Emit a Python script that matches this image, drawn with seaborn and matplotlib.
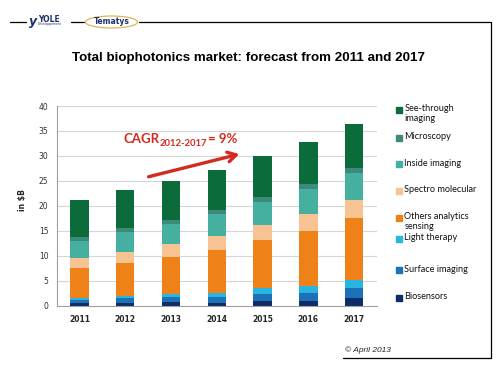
import matplotlib
matplotlib.use("Agg")
import matplotlib.pyplot as plt
import seaborn as sns
import pandas as pd
from matplotlib.lines import Line2D
from matplotlib.patches import Rectangle, Ellipse

# Données (en milliards de $)
years = [2011, 2012, 2013, 2014, 2015, 2016, 2017]
see_through = [7.4, 7.55, 7.82, 8.0, 8.14, 8.4, 8.66]
microscopy = [0.75, 0.8, 0.8, 0.8, 1.0, 1.0, 1.0]
inside_imaging = [3.5, 3.95, 4.0, 4.4, 4.68, 5.0, 5.48]
spectro = [2.0, 2.3, 2.67, 2.8, 3.0, 3.4, 3.54]
others = [5.9, 6.6, 7.4, 8.55, 9.7, 10.95, 12.55]
light_therapy = [0.5, 0.5, 0.65, 0.93, 1.2, 1.4, 1.6]
surface_imaging = [0.6, 0.9, 1.0, 1.2, 1.34, 1.6, 2.0]
biosensors = [0.5, 0.55, 0.65, 0.47, 0.93, 1.0, 1.47]

segments = ["See-through imaging", "Microscopy", "Inside imaging", "Spectro molecular",
            "Others analytics sensing", "Light therapy", "Surface imaging", "Biosensors"]
legend_labels = ["See-through\nimaging", "Microscopy", "Inside imaging", "Spectro molecular",
                 "Others analytics\nsensing", "Light therapy", "Surface imaging", "Biosensors"]
colors = ["#0c6b3b", "#3d8a7a", "#45b0a0", "#f7c393", "#ee8219",
          "#2ab4e2", "#1b72b6", "#0e2d68"]
values = [see_through, microscopy, inside_imaging, spectro, others,
          light_therapy, surface_imaging, biosensors]

rows = []
for seg, vals in zip(segments, values):
    for y, v in zip(years, vals):
        rows.append((y, seg, v))
df = pd.DataFrame(rows, columns=["year", "segment", "value"])

sns.set_style("white")
plt.rcParams["font.family"] = ["DejaVu Sans"]

W, H = 500, 369
fig = plt.figure(figsize=(5, 3.69), dpi=100)

def fx(px):
    return px / W

def fy(py):
    return 1 - py / H

ax = fig.add_axes([0.1134, 0.1715, 0.6406, 0.5412])
sns.histplot(data=df, x="year", weights="value", hue="segment", hue_order=segments,
             multiple="stack", discrete=True, shrink=0.4, palette=colors,
             alpha=1, linewidth=0, legend=False, ax=ax)

ax.set_xlim(2010.5, 2017.5)
ax.set_ylim(0, 40)
ax.set_yticks(range(0, 41, 5))
ax.set_xticks(years)
ax.set_xticks([y + 0.5 for y in [2010] + years], minor=True)
ax.tick_params(axis="x", which="major", length=0, labelsize=5.5, pad=7)
ax.tick_params(axis="x", which="minor", length=3, color="#999999", direction="out")
ax.tick_params(axis="y", length=3, color="#999999", labelsize=5.5, labelcolor="#333333", pad=3)
for lab in ax.get_xticklabels():
    lab.set_fontweight("bold")
ax.set_xlabel("")
ax.set_ylabel("")
ax.yaxis.grid(True, color="#d6d6d6", lw=0.8)
ax.set_axisbelow(True)
for side in ["top", "right"]:
    ax.spines[side].set_visible(False)
for side in ["left", "bottom"]:
    ax.spines[side].set_color("#a0a0a0")
    ax.spines[side].set_linewidth(0.8)

fig.text(fx(22), fy(200), "in $B", rotation=90, ha="center", va="center",
         fontsize=5.5, fontweight="bold")

# CAGR annotation
red = "#d42a1f"
t1 = ax.text(2011.96, 33.4, "CAGR", color=red, fontsize=9.5, fontweight="bold",
             family="Lato", va="center", ha="left")
t2 = ax.annotate("2012-2017", xy=(1, 0), xycoords=t1, xytext=(0.3, -2.2), textcoords="offset points",
                 color=red, fontsize=6.8, fontweight="bold", family="Lato", va="bottom", ha="left")
ax.annotate("= 9%", xy=(1, 0), xycoords=(t2, t1), xytext=(0.3, 0.3), textcoords="offset points",
            color=red, fontsize=9.5, fontweight="bold", family="Lato", va="bottom", ha="left")
ax.annotate("", xy=(2014.55, 30.5), xytext=(2012.45, 25.7),
            arrowprops=dict(arrowstyle="->,head_length=0.6,head_width=0.35", color=red, lw=2.4))

# Title
fig.text(fx(248), fy(58), "Total biophotonics market: forecast from 2011 and 2017",
         ha="center", va="center", fontsize=9.6, fontweight="bold", family="Liberation Sans",
         color="black")

# Legend drawn by hand to mimic the spreadsheet layout
legend_y = [109.7, 137.7, 164.3, 191, 217.5, 239, 270.3, 297.7]
for lab, col, py in zip(legend_labels, colors, legend_y):
    fig.patches.append(Rectangle((fx(396), fy(py + 3)), fx(6), 6 / H, color=col,
                                 transform=fig.transFigure, figure=fig))
    fig.text(fx(404.5), fy(py - 5.5), lab, ha="left", va="top", fontsize=6.6,
             family="Lato", linespacing=1.12, color="#111111")

# Header: logos and frame lines
line_kw = dict(color="black", lw=0.9, transform=fig.transFigure)
fig.add_artist(Line2D([fx(10), fx(26)], [fy(22), fy(22)], **line_kw))
fig.add_artist(Line2D([fx(71), fx(84)], [fy(22), fy(22)], **line_kw))
fig.add_artist(Line2D([fx(139), fx(490.5)], [fy(22), fy(22)], **line_kw))
fig.add_artist(Line2D([fx(490.5), fx(490.5)], [fy(22), fy(357.7)], **line_kw))
fig.add_artist(Line2D([fx(343), fx(490.5)], [fy(357.7), fy(357.7)], **line_kw))

navy = "#1f3168"
fig.text(fx(29), fy(22), "y", color=navy, fontsize=9, fontweight="bold",
         style="italic", ha="left", va="center")
fig.text(fx(38), fy(19), "YOLE", color=navy, fontsize=5.5, fontweight="bold",
         ha="left", va="center")
fig.text(fx(38), fy(24.5), "Développement", color=navy, fontsize=2.2,
         ha="left", va="center")
fig.patches.append(Ellipse((fx(111.5), fy(22)), fx(52), 12 / H, fill=False,
                           edgecolor="#d8b65a", lw=0.9, transform=fig.transFigure, figure=fig))
fig.text(fx(111.5), fy(22), "Tematys", color=navy, fontsize=5.5, fontweight="bold",
         ha="center", va="center")

fig.text(fx(345), fy(350.5), "© April 2013", fontsize=6, style="italic",
         ha="left", va="center", family="Liberation Sans")

fig.savefig("out.png", dpi=100)
